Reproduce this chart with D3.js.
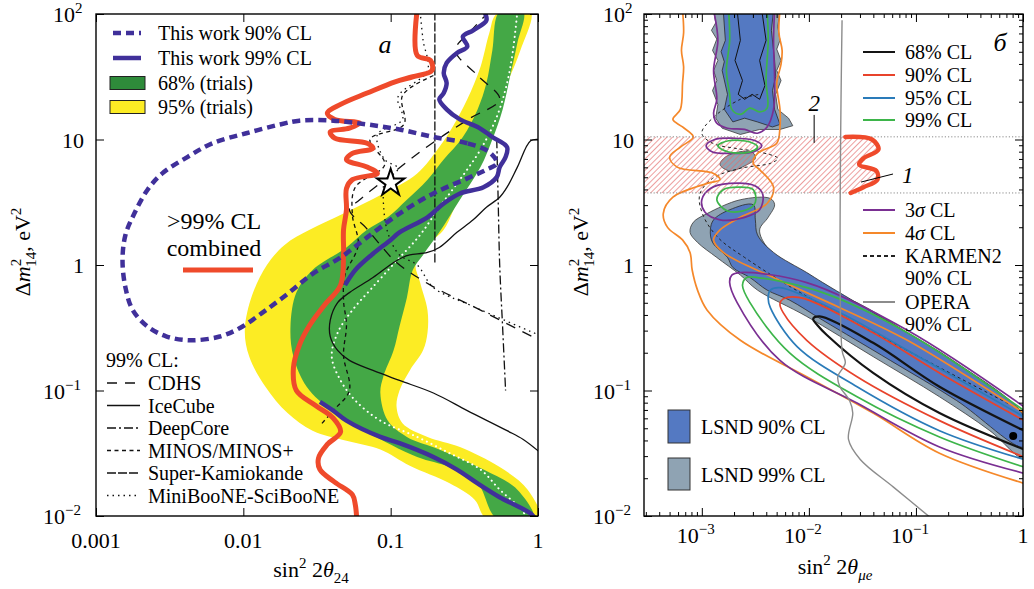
<!DOCTYPE html>
<html>
<head>
<meta charset="utf-8">
<script src="https://cdn.jsdelivr.net/npm/d3@7"></script>
<style>
  body { margin: 0; background: #fff; }
  svg { font-family: "Liberation Serif", "DejaVu Serif", serif; }
</style>
</head>
<body>
<svg id="chart" width="1034" height="589"></svg>
<script>
// All curve points are [log10(sin^2 2θ), log10(Δm^2)].

// ---- panel а : sin^2 2θ24 ----
const band95 = [[-0.28,2],[-0.33,1.85],[-0.39,1.58],[-0.48,1.32],[-0.58,1.10],[-0.67,0.94],[-0.82,0.73],[-1.05,0.57],[-1.32,0.41],[-1.55,0.28],[-1.72,0.16],[-1.84,0.0],[-1.94,-0.24],[-1.99,-0.52],[-1.96,-0.73],[-1.85,-0.97],[-1.70,-1.18],[-1.53,-1.32],[-1.30,-1.40],[-1.07,-1.47],[-0.87,-1.60],[-0.60,-1.74],[-0.43,-1.87],[-0.35,-2.02],[0.01,-2.02],[-0.07,-1.79],[-0.26,-1.61],[-0.53,-1.45],[-0.75,-1.37],[-0.92,-1.26],[-0.96,-1.13],[-0.94,-1.0],[-0.87,-0.84],[-0.78,-0.68],[-0.75,-0.54],[-0.75,-0.36],[-0.80,-0.14],[-0.83,0.02],[-0.73,0.18],[-0.64,0.28],[-0.51,0.62],[-0.38,0.92],[-0.31,1.18],[-0.21,1.45],[-0.12,1.71],[-0.05,2.02]];
const band68 = [[-0.26,2.02],[-0.31,1.71],[-0.35,1.45],[-0.41,1.24],[-0.51,1.02],[-0.64,0.84],[-0.75,0.68],[-0.89,0.52],[-1.02,0.38],[-1.16,0.28],[-1.30,0.14],[-1.53,-0.04],[-1.64,-0.22],[-1.68,-0.49],[-1.66,-0.73],[-1.57,-0.97],[-1.39,-1.17],[-1.16,-1.33],[-0.82,-1.53],[-0.60,-1.61],[-0.41,-1.74],[-0.28,-2.02],[-0.03,-2.02],[-0.14,-1.79],[-0.37,-1.63],[-0.67,-1.47],[-0.89,-1.37],[-1.02,-1.24],[-1.07,-1.02],[-1.05,-0.89],[-0.98,-0.68],[-0.94,-0.49],[-0.89,-0.26],[-0.85,-0.04],[-0.78,0.08],[-0.67,0.26],[-0.53,0.52],[-0.39,0.78],[-0.31,1.0],[-0.24,1.24],[-0.19,1.50],[-0.14,1.77],[-0.10,2.02]];
const sensitivity = [[-0.14,2.02],[-0.17,1.71],[-0.21,1.45],[-0.28,1.18],[-0.39,0.92],[-0.53,0.68],[-0.67,0.46],[-0.80,0.24],[-0.97,0.02],[-1.14,-0.20],[-1.26,-0.36],[-1.36,-0.54],[-1.40,-0.73],[-1.34,-0.92],[-1.24,-1.08],[-1.07,-1.24],[-0.82,-1.37],[-0.60,-1.50],[-0.39,-1.63],[-0.26,-1.79],[-0.12,-1.94],[-0.07,-2.02]];
const work99Upper = [[-0.37,2.03],[-0.35,1.95],[-0.44,1.87],[-0.51,1.82],[-0.48,1.74],[-0.55,1.69],[-0.62,1.61],[-0.64,1.53],[-0.62,1.45],[-0.64,1.37],[-0.67,1.32],[-0.62,1.24],[-0.53,1.16],[-0.41,1.10],[-0.31,1.02],[-0.21,0.94],[-0.22,0.86],[-0.26,0.78],[-0.28,0.70],[-0.37,0.62],[-0.53,0.57],[-0.64,0.49],[-0.75,0.38],[-0.94,0.26],[-1.0,0.20],[-1.13,0.08],[-1.24,-0.04],[-1.31,-0.16]];
const work99Lower = [[-1.48,-1.09],[-1.39,-1.16],[-1.30,-1.24],[-1.07,-1.37],[-0.94,-1.42],[-0.71,-1.53],[-0.55,-1.63],[-0.41,-1.74],[-0.26,-1.85],[-0.05,-1.98],[-0.02,-2.02]];
const work90 = [[-0.33,0.90],[-0.48,0.97],[-0.71,1.02],[-0.94,1.08],[-1.16,1.12],[-1.39,1.15],[-1.62,1.15],[-1.75,1.12],[-1.98,1.05],[-2.21,0.97],[-2.38,0.86],[-2.55,0.73],[-2.65,0.60],[-2.74,0.41],[-2.80,0.24],[-2.82,0.04],[-2.80,-0.18],[-2.75,-0.36],[-2.65,-0.49],[-2.52,-0.57],[-2.36,-0.60],[-2.16,-0.57],[-2.02,-0.50],[-1.87,-0.38],[-1.70,-0.23],[-1.53,-0.07],[-1.34,0.06],[-1.16,0.22],[-0.94,0.41],[-0.71,0.57],[-0.48,0.69],[-0.35,0.76],[-0.28,0.81]];
const combined99 = [[-0.82,2.03],[-0.82,1.67],[-0.73,1.63],[-0.72,1.55],[-0.85,1.50],[-0.97,1.46],[-1.16,1.37],[-1.34,1.28],[-1.43,1.21],[-1.38,1.16],[-1.21,1.13],[-1.28,1.09],[-1.41,1.06],[-1.38,1.01],[-1.16,0.97],[-1.12,0.93],[-1.26,0.89],[-1.30,0.84],[-1.16,0.78],[-1.09,0.73],[-1.26,0.68],[-1.30,0.61],[-1.30,0.44],[-1.32,0.28],[-1.32,0.08],[-1.34,-0.16],[-1.45,-0.32],[-1.55,-0.48],[-1.62,-0.64],[-1.66,-0.82],[-1.64,-1.0],[-1.51,-1.12],[-1.39,-1.22],[-1.34,-1.33],[-1.43,-1.43],[-1.49,-1.54],[-1.48,-1.63],[-1.38,-1.73],[-1.26,-1.83],[-1.24,-1.91],[-1.23,-2.03]];
const cdhs = [[-0.33,2.02],[-0.46,1.86],[-0.56,1.71],[-0.41,1.51],[-0.26,1.32],[-0.46,1.17],[-0.67,1.01],[-0.87,0.84],[-1.04,0.68],[-1.21,0.52],[-1.28,0.44],[-1.17,0.30],[-1.07,0.16],[-0.96,0.02],[-0.73,-0.16],[-0.39,-0.36],[0.01,-0.60]];
const icecube = [[0.01,1.0],[-0.05,0.99],[-0.14,0.78],[-0.21,0.62],[-0.26,0.54],[-0.35,0.46],[-0.44,0.36],[-0.55,0.26],[-0.67,0.14],[-0.75,0.10],[-0.87,0.08],[-0.92,0.06],[-0.98,0.02],[-1.12,-0.10],[-1.28,-0.22],[-1.36,-0.30],[-1.41,-0.44],[-1.41,-0.57],[-1.36,-0.68],[-1.28,-0.76],[-1.12,-0.84],[-0.94,-0.92],[-0.71,-1.02],[-0.48,-1.16],[-0.21,-1.32],[-0.10,-1.39],[0.01,-1.49]];
const deepcore = [[-0.28,1.0],[-0.27,0.5],[-0.26,0.0],[-0.24,-0.5],[-0.22,-1.0]];
const minos = [[-0.71,1.51],[-0.92,1.35],[-0.91,1.12],[-1.14,1.0],[-1.04,0.80],[-1.24,0.62],[-1.26,0.40],[-1.22,0.16],[-1.31,-0.08],[-1.32,-0.28],[-1.30,-0.48],[-1.32,-0.72],[-1.28,-1.0],[-1.39,-1.16],[-1.48,-1.28]];
const superK = [[-0.70,2.02],[-0.70,0.02]];
const miniboone = [[-0.80,2.02],[-0.78,1.79],[-0.75,1.55],[-0.95,1.34],[-0.92,1.16],[-1.09,1.04],[-1.04,0.84],[-0.95,0.77],[-1.04,0.66],[-1.05,0.52],[-1.02,0.26],[-0.94,0.08],[-0.82,0.0],[-0.71,-0.18],[-0.46,-0.32],[0.01,-0.56]];
const starPoint = [0.1, 4.5];

const ticksA_x = [0.001, 0.01, 0.1, 1];
const ticksA_xLabels = ['0.001', '0.01', '0.1', '1'];
const ticksY = [100, 10, 1, 0.1, 0.01];
const ticksY_exp = ['2', '', '', '−1', '−2'];
const ticksY_base = ['10', '10', '1', '10', '10'];

const legendWork = ['This work 90% CL', 'This work 99% CL', '68% (trials)', '95% (trials)'];
const legendExp = ['CDHS', 'IceCube', 'DeepCore', 'MINOS/MINOS+', 'Super-Kamiokande', 'MiniBooNE-SciBooNE'];
const legendExpDash = ['10,8', null, '9,3,2,3', '4,3.5', '9,2', '1.5,4'];

// ---- panel б : sin^2 2θμe ----
const lsnd99Upper = [[-2.89,2.03],[-2.87,1.93],[-2.91,1.87],[-2.86,1.80],[-2.90,1.71],[-2.85,1.63],[-2.89,1.55],[-2.86,1.47],[-2.90,1.39],[-2.85,1.28],[-2.87,1.17],[-2.81,1.09],[-2.64,1.04],[-2.46,1.08],[-2.27,1.08],[-2.15,1.11],[-2.19,1.17],[-2.29,1.24],[-2.31,1.36],[-2.26,1.47],[-2.30,1.55],[-2.26,1.63],[-2.30,1.72],[-2.27,1.79],[-2.29,1.90],[-2.27,2.03]];
const lsnd99Island = [[-2.83,0.80],[-2.78,0.86],[-2.66,0.90],[-2.53,0.90],[-2.50,0.85],[-2.60,0.79],[-2.74,0.75]];
const lsnd99Lower = [[-2.36,0.53],[-2.32,0.48],[-2.38,0.38],[-2.46,0.28],[-2.39,0.14],[-2.18,-0.02],[-1.90,-0.18],[-1.55,-0.30],[-1.08,-0.54],[-0.62,-0.81],[-0.15,-1.12],[0.01,-1.18],[0.01,-1.54],[-0.31,-1.32],[-0.78,-1.05],[-1.40,-0.73],[-2.02,-0.41],[-2.48,-0.20],[-2.64,-0.08],[-2.86,0.06],[-3.04,0.18],[-3.11,0.26],[-3.08,0.34],[-2.95,0.41],[-2.64,0.52]];
const lsnd90Upper = [[-2.80,2.03],[-2.78,1.79],[-2.82,1.70],[-2.79,1.62],[-2.81,1.55],[-2.76,1.36],[-2.79,1.24],[-2.71,1.14],[-2.60,1.17],[-2.48,1.14],[-2.34,1.10],[-2.27,1.12],[-2.32,1.24],[-2.34,1.39],[-2.31,1.50],[-2.32,1.63],[-2.35,1.87],[-2.33,2.03]];
const lsnd90Lower = [[-2.52,0.48],[-2.50,0.36],[-2.48,0.24],[-2.33,0.10],[-2.02,-0.06],[-1.87,-0.14],[-1.24,-0.46],[-0.62,-0.78],[0.01,-1.21],[0.01,-1.45],[-0.62,-1.08],[-1.24,-0.76],[-1.87,-0.44],[-2.18,-0.28],[-2.39,-0.20],[-2.55,-0.10],[-2.71,-0.02],[-2.76,0.06],[-2.90,0.18],[-2.92,0.28],[-2.89,0.36],[-2.74,0.44]];
const cl68Upper = [[-2.67,2.03],[-2.64,1.79],[-2.69,1.63],[-2.62,1.47],[-2.66,1.36],[-2.60,1.32],[-2.53,1.36],[-2.46,1.32],[-2.41,1.43],[-2.46,1.63],[-2.40,1.79],[-2.44,2.03]];
const cl68 = [[0.01,-1.32],[-0.78,-0.97],[-1.40,-0.62],[-1.90,-0.41],[-1.96,-0.43],[-1.92,-0.48],[-1.83,-0.56],[-1.40,-0.86],[-0.78,-1.18],[0.01,-1.47]];
const cl90 = [[0.01,-1.24],[-0.78,-0.86],[-1.40,-0.54],[-2.08,-0.26],[-2.24,-0.27],[-2.27,-0.31],[-2.24,-0.38],[-2.02,-0.60],[-1.55,-0.89],[-0.78,-1.24],[0.01,-1.53]];
const cl95 = [[0.01,-1.21],[-1.08,-0.68],[-1.71,-0.38],[-2.27,-0.18],[-2.36,-0.20],[-2.38,-0.26],[-2.36,-0.34],[-2.11,-0.65],[-1.55,-0.97],[-0.78,-1.32],[0.01,-1.55]];
const cl99 = [[0.01,-1.16],[-1.08,-0.54],[-1.87,-0.22],[-2.48,-0.10],[-2.58,-0.10],[-2.62,-0.16],[-2.55,-0.30],[-2.18,-0.70],[-1.55,-1.05],[-0.78,-1.37],[0.01,-1.61]];
const cl99Upper = [[-2.75,2.03],[-2.74,1.79],[-2.77,1.55],[-2.74,1.36],[-2.72,1.24],[-2.64,1.20],[-2.55,1.25],[-2.46,1.22],[-2.39,1.25],[-2.40,1.47],[-2.38,1.79],[-2.39,2.03]];
const cl99Island1 = [[-2.85,0.95],[-2.75,0.99],[-2.55,0.98],[-2.48,0.94],[-2.55,0.90],[-2.75,0.90]];
const cl99Island2 = [[-2.86,0.52],[-2.80,0.60],[-2.65,0.62],[-2.52,0.60],[-2.50,0.50],[-2.58,0.44],[-2.76,0.43]];
const sigma3 = [[0.01,-1.13],[-1.08,-0.52],[-2.02,-0.14],[-2.64,-0.06],[-2.72,-0.08],[-2.74,-0.14],[-2.67,-0.30],[-2.27,-0.76],[-1.55,-1.10],[-0.78,-1.45],[0.01,-1.66]];
const sigma3Upper = [[-2.89,2.03],[-2.85,1.79],[-2.89,1.55],[-2.86,1.32],[-2.89,1.21],[-2.86,1.13],[-2.76,1.09],[-2.60,1.08],[-2.48,1.05],[-2.39,1.10],[-2.33,1.24],[-2.32,1.47],[-2.33,1.79],[-2.32,2.03]];
const sigma3Island1 = [[-2.96,0.95],[-2.88,1.0],[-2.70,1.01],[-2.50,0.99],[-2.44,0.95],[-2.52,0.90],[-2.70,0.89],[-2.90,0.90]];
const sigma3Island2 = [[-3.0,0.52],[-2.92,0.61],[-2.74,0.65],[-2.50,0.63],[-2.43,0.56],[-2.46,0.44],[-2.60,0.38],[-2.83,0.36],[-2.97,0.42]];
const sigma4 = [[-3.18,2.03],[-3.17,1.85],[-3.19,1.71],[-3.17,1.58],[-3.18,1.45],[-3.20,1.24],[-3.27,1.16],[-3.18,1.10],[-3.08,1.02],[-3.20,0.94],[-3.30,0.86],[-3.23,0.78],[-2.89,0.73],[-2.83,0.68],[-2.95,0.65],[-3.27,0.54],[-3.36,0.41],[-3.32,0.30],[-3.18,0.20],[-3.11,0.10],[-3.09,-0.04],[-3.04,-0.20],[-2.95,-0.36],[-2.64,-0.60],[-2.02,-0.89],[-1.40,-1.18],[-0.78,-1.50],[0.01,-1.74]];
const sigma4Inner = [[0.01,-1.18],[-1.08,-0.60],[-1.71,-0.34],[-2.33,-0.10],[-2.80,0.10],[-2.89,0.20],[-2.83,0.28],[-2.64,0.38],[-2.39,0.49],[-2.33,0.62],[-2.46,0.76],[-2.52,0.81],[-2.48,0.89],[-2.30,0.97],[-2.27,1.10],[-2.27,1.24],[-2.30,1.45],[-2.26,1.60],[-2.25,1.71],[-2.28,1.85],[-2.27,2.03]];
const karmen = [[0.01,-1.17],[-1.15,-0.65],[-2.08,-0.22],[-2.60,0.06],[-2.85,0.22],[-2.99,0.40],[-3.02,0.56],[-2.90,0.69],[-2.64,0.77],[-2.36,0.81],[-2.29,0.85],[-2.46,0.90],[-2.69,0.93],[-2.90,0.97],[-3.0,1.05],[-2.90,1.17],[-2.64,1.32],[-2.46,1.36]];
const opera = [[-1.69,1.95],[-1.69,-0.68],[-1.66,-0.78],[-1.73,-0.89],[-1.71,-0.97],[-1.62,-1.08],[-1.59,-1.18],[-1.63,-1.39],[-1.52,-1.55],[-1.21,-1.77],[-0.84,-2.03]];
const region1 = [[-1.66,1.02],[-1.41,1.0],[-1.35,0.92],[-1.49,0.85],[-1.53,0.80],[-1.37,0.75],[-1.36,0.68],[-1.49,0.62],[-1.61,0.574]];
const bandLimits = [3.75, 10.5];
const bestFit = [0.81, 0.0434];

const ticksB_x = [0.001, 0.01, 0.1, 1];
const ticksB_xExp = ['−3', '−2', '−1', ''];
const ticksB_xBase = ['10', '10', '10', '1'];
const legendCL = ['68% CL', '90% CL', '95% CL', '99% CL'];
const colorsCL = ['#141414', '#e8432b', '#2a7bb9', '#3db54a'];
const legendSigma = ['3', '4'];
const colorsSigma = ['#7a2f92', '#f5882a'];

// ---------------------------------------------------------------
const svg = d3.select('#chart');
const defs = svg.append('defs');
const toVal = pts => pts.map(([a, b]) => [10 ** a, 10 ** b]);

const xa = d3.scaleLog().domain([1e-3, 1]).range([96, 538]);
const ya = d3.scaleLog().domain([1e-2, 1e2]).range([516, 14]);
const xb = d3.scaleLog().domain([10 ** -3.54, 1]).range([644, 1023]);
const yb = ya.copy();

function addClip(id, sx, sy) {
  defs.append('clipPath').attr('id', id).append('rect')
    .attr('x', sx.range()[0]).attr('y', sy.range()[1])
    .attr('width', sx.range()[1] - sx.range()[0])
    .attr('height', sy.range()[0] - sy.range()[1]);
}
addClip('clipA', xa, ya);
addClip('clipB', xb, yb);

const hatch = defs.append('pattern').attr('id', 'hatch')
  .attr('patternUnits', 'userSpaceOnUse').attr('width', 4).attr('height', 4)
  .attr('patternTransform', 'rotate(45)');
hatch.append('line').attr('x1', 0).attr('y1', 0).attr('x2', 0).attr('y2', 4)
  .attr('stroke', '#e46a6a').attr('stroke-width', 1.3);

function draw(g, sx, sy, pts, closed, smooth = true) {
  const curve = smooth
    ? (closed ? d3.curveCatmullRomClosed : d3.curveCatmullRom)
    : (closed ? d3.curveLinearClosed : d3.curveLinear);
  const line = d3.line().x(d => sx(d[0])).y(d => sy(d[1])).curve(curve);
  return g.append('path').attr('d', line(toVal(pts))).attr('fill', 'none');
}

// ====================== panel а ======================
const gA = svg.append('g').attr('clip-path', 'url(#clipA)');
draw(gA, xa, ya, band95, true).attr('fill', '#fcec24');
draw(gA, xa, ya, band68, true).attr('fill', '#44a846');
draw(gA, xa, ya, sensitivity, false).attr('stroke', '#fff').attr('stroke-width', 2)
  .attr('stroke-dasharray', '0.1,5').attr('stroke-linecap', 'round');

const expLines = [cdhs, icecube, deepcore, minos, superK, miniboone];
expLines.forEach((pts, i) => {
  draw(gA, xa, ya, pts, false, pts.length > 2).attr('stroke', '#111')
    .attr('stroke-width', 1.3).attr('stroke-dasharray', legendExpDash[i]);
});

draw(gA, xa, ya, work99Upper, false).attr('stroke', '#40309a').attr('stroke-width', 4.5);
draw(gA, xa, ya, work99Lower, false).attr('stroke', '#40309a').attr('stroke-width', 4.5);
draw(gA, xa, ya, combined99, false).attr('stroke', '#ef4a2b').attr('stroke-width', 5)
  .attr('stroke-linejoin', 'round');
draw(gA, xa, ya, work90, true).attr('stroke', '#40309a').attr('stroke-width', 4.5)
  .attr('stroke-dasharray', '8,5');

gA.append('path')
  .attr('d', d3.symbol(d3.symbolStar).size(230)())
  .attr('transform', `translate(${xa(starPoint[0])},${ya(starPoint[1])})`)
  .attr('fill', '#fff').attr('stroke', '#000').attr('stroke-width', 2);

// ====================== panel б ======================
const gB = svg.append('g').attr('clip-path', 'url(#clipB)');
[lsnd99Upper, lsnd99Island, lsnd99Lower].forEach(p =>
  draw(gB, xb, yb, p, true, p !== lsnd99Upper).attr('fill', '#8fa3b3').attr('stroke', '#3a3a3a').attr('stroke-width', 0.8));
[lsnd90Upper, lsnd90Lower].forEach(p =>
  draw(gB, xb, yb, p, true, p !== lsnd90Upper).attr('fill', '#5479c2').attr('stroke', '#2a2a2a').attr('stroke-width', 0.8));
draw(gB, xb, yb, cl68Upper, false, false).attr('stroke', '#111').attr('stroke-width', 1);

// hatched region left of curve 1
const hatchPts = [[Math.log10(xb.domain()[0]), Math.log10(bandLimits[1])], ...region1,
  [Math.log10(xb.domain()[0]), Math.log10(bandLimits[0])]];
draw(gB, xb, yb, hatchPts, true, false).attr('fill', 'url(#hatch)');

draw(gB, xb, yb, karmen, false).attr('stroke', '#222').attr('stroke-width', 1).attr('stroke-dasharray', '3,3');

const sw = 1.7;
draw(gB, xb, yb, sigma4, false).attr('stroke', colorsSigma[1]).attr('stroke-width', sw);
draw(gB, xb, yb, sigma4Inner, false).attr('stroke', colorsSigma[1]).attr('stroke-width', sw);
draw(gB, xb, yb, sigma3, false).attr('stroke', colorsSigma[0]).attr('stroke-width', sw);
draw(gB, xb, yb, sigma3Upper, false).attr('stroke', colorsSigma[0]).attr('stroke-width', sw);
draw(gB, xb, yb, sigma3Island1, true).attr('stroke', colorsSigma[0]).attr('stroke-width', sw);
draw(gB, xb, yb, sigma3Island2, true).attr('stroke', colorsSigma[0]).attr('stroke-width', sw);
draw(gB, xb, yb, cl99, false).attr('stroke', colorsCL[3]).attr('stroke-width', sw);
draw(gB, xb, yb, cl99Upper, false).attr('stroke', colorsCL[3]).attr('stroke-width', sw);
draw(gB, xb, yb, cl99Island1, true).attr('stroke', colorsCL[3]).attr('stroke-width', sw);
draw(gB, xb, yb, cl99Island2, true).attr('stroke', colorsCL[3]).attr('stroke-width', sw);
draw(gB, xb, yb, cl95, false).attr('stroke', colorsCL[2]).attr('stroke-width', sw);
draw(gB, xb, yb, cl90, false).attr('stroke', colorsCL[1]).attr('stroke-width', sw);
draw(gB, xb, yb, cl68, false).attr('stroke', colorsCL[0]).attr('stroke-width', 2.2);

draw(gB, xb, yb, opera, false).attr('stroke', '#8c8c8c').attr('stroke-width', 1.4);

bandLimits.forEach(v => gB.append('line')
  .attr('x1', xb.range()[0]).attr('x2', xb.range()[1]).attr('y1', yb(v)).attr('y2', yb(v))
  .attr('stroke', '#8a8a8a').attr('stroke-width', 1).attr('stroke-dasharray', '1.2,2'));

draw(gB, xb, yb, region1, false).attr('stroke', '#ef4a2b').attr('stroke-width', 4.5)
  .attr('stroke-linecap', 'round');

gB.append('circle').attr('cx', xb(bestFit[0])).attr('cy', yb(bestFit[1])).attr('r', 4).attr('fill', '#000');

// labels "1" and "2" with leaders
svg.append('line').attr('x1', xb(0.0307)).attr('y1', yb(4.58)).attr('x2', xb(0.0611)).attr('y2', yb(5.31))
  .attr('stroke', '#000').attr('stroke-width', 1);
svg.append('text').attr('x', xb(0.084)).attr('y', yb(5.2) + 8).attr('font-size', 23)
  .attr('font-style', 'italic').attr('text-anchor', 'middle').text('1');
svg.append('line').attr('x1', xb(0.0112)).attr('y1', yb(15.7)).attr('x2', xb(0.0112)).attr('y2', yb(9.4))
  .attr('stroke', '#000').attr('stroke-width', 1);
svg.append('text').attr('x', xb(0.0112)).attr('y', yb(19.5) + 8).attr('font-size', 23)
  .attr('font-style', 'italic').attr('text-anchor', 'middle').text('2');

// ====================== frames & ticks ======================
function frame(sx, sy, majorX, majorY, minorX, minorY) {
  const [x0, x1] = sx.range(), [y1, y0] = sy.range();
  const g = svg.append('g');
  const put = (axis, tr) => {
    const a = g.append('g').attr('transform', tr).call(axis);
    a.select('.domain').remove();
    a.selectAll('line').attr('stroke', '#000').attr('stroke-width', 1);
  };
  [[majorX, 8], [minorX, 4]].forEach(([vals, len]) => {
    if (!vals.length) return;
    put(d3.axisBottom(sx).tickValues(vals).tickSize(-len).tickFormat(''), `translate(0,${y1})`);
    put(d3.axisTop(sx).tickValues(vals).tickSize(-len).tickFormat(''), `translate(0,${y0})`);
  });
  [[majorY, 8], [minorY, 4]].forEach(([vals, len]) => {
    if (!vals.length) return;
    put(d3.axisLeft(sy).tickValues(vals).tickSize(-len).tickFormat(''), `translate(${x0},0)`);
    put(d3.axisRight(sy).tickValues(vals).tickSize(-len).tickFormat(''), `translate(${x1},0)`);
  });
  g.append('rect').attr('x', x0).attr('y', y0).attr('width', x1 - x0).attr('height', y1 - y0)
    .attr('fill', 'none').attr('stroke', '#000').attr('stroke-width', 1.4);
}

const minors = (lo, hi, dmin, dmax) => {
  const out = [];
  for (let e = lo; e <= hi; e++) for (let k = 2; k <= 9; k++) {
    const v = k * 10 ** e;
    if (v > dmin && v < dmax) out.push(v);
  }
  return out;
};
frame(xa, ya, ticksA_x, ticksY, [], []);
frame(xb, yb, ticksB_x, ticksY, minors(-4, -1, xb.domain()[0], 1), minors(-2, 1, 0.01, 100));

// tick labels
function powText(x, y, base, exp, anchor) {
  const t = svg.append('text').attr('x', x).attr('y', y).attr('font-size', 22).attr('text-anchor', anchor);
  t.append('tspan').text(base);
  if (exp) t.append('tspan').attr('dy', -9).attr('font-size', 15).text(exp);
}
ticksA_x.forEach((v, i) => svg.append('text').attr('x', xa(v)).attr('y', 548)
  .attr('font-size', 22).attr('text-anchor', 'middle').text(ticksA_xLabels[i]));
ticksB_x.forEach((v, i) => powText(xb(v) - (ticksB_xExp[i] ? 6 : 0), 543, ticksB_xBase[i], ticksB_xExp[i], 'middle'));
ticksY.forEach((v, i) => {
  const ex = ticksY_exp[i];
  const w = ex ? (ex.length > 1 ? 19 : 9) : 0;
  [[xa, 84], [xb, 634]].forEach(([, xr]) => {
    const t = svg.append('text').attr('x', xr - w).attr('y', ya(v) + 8).attr('font-size', 22).attr('text-anchor', 'end');
    t.text(ticksY_base[i]);
    if (ex) svg.append('text').attr('x', xr - w).attr('y', ya(v) - 1).attr('font-size', 15).text(ex);
  });
});

// axis titles
function yTitle(x, y) {
  const t = svg.append('text').attr('transform', `translate(${x},${y}) rotate(-90)`)
    .attr('font-size', 22).attr('text-anchor', 'middle');
  t.append('tspan').text('Δ');
  t.append('tspan').attr('font-style', 'italic').text('m');
  t.append('tspan').attr('dy', -9).attr('font-size', 15).text('2');
  t.append('tspan').attr('dx', -8).attr('dy', 15).attr('font-size', 15).text('14');
  t.append('tspan').attr('dy', -6).text(', eV');
  t.append('tspan').attr('dy', -9).attr('font-size', 15).text('2');
}
yTitle(30, 252);
yTitle(588, 252);

function xTitle(x, y, sub, gap) {
  const t = svg.append('text').attr('x', x).attr('y', y).attr('font-size', 22).attr('text-anchor', 'middle');
  t.append('tspan').text('sin');
  t.append('tspan').attr('dy', -9).attr('font-size', 15).text('2');
  t.append('tspan').attr('dy', 9).text(gap + '2');
  t.append('tspan').attr('font-style', 'italic').text('θ');
  t.append('tspan').attr('dy', 6).attr('font-size', 15).attr('font-style', sub === '24' ? 'normal' : 'italic').text(sub);
}
xTitle(311, 577, '24', '  ');
xTitle(835, 574, 'μe', ' ');

// panel letters
svg.append('text').attr('x', 385).attr('y', 53).attr('font-size', 26).attr('font-style', 'italic')
  .attr('text-anchor', 'middle').text('а');
svg.append('text').attr('x', 1000).attr('y', 51).attr('font-size', 26).attr('font-style', 'italic')
  .attr('text-anchor', 'middle').text('б');

// ====================== legends panel а ======================
const lgA = svg.append('g');
const rowsA = [33, 58, 83, 107];
lgA.append('line').attr('x1', 113).attr('x2', 141).attr('y1', rowsA[0]).attr('y2', rowsA[0])
  .attr('stroke', '#40309a').attr('stroke-width', 4.5).attr('stroke-dasharray', '8,5');
lgA.append('line').attr('x1', 113).attr('x2', 141).attr('y1', rowsA[1]).attr('y2', rowsA[1])
  .attr('stroke', '#40309a').attr('stroke-width', 4.5);
lgA.append('rect').attr('x', 110).attr('y', rowsA[2] - 6.5).attr('width', 35).attr('height', 13)
  .attr('fill', '#2e8b3a').attr('stroke', '#222');
lgA.append('rect').attr('x', 110).attr('y', rowsA[3] - 6.5).attr('width', 35).attr('height', 13)
  .attr('fill', '#fcec24').attr('stroke', '#222');
legendWork.forEach((s, i) => lgA.append('text').attr('x', 158).attr('y', rowsA[i] + 7)
  .attr('font-size', 20).text(s));

lgA.append('text').attr('x', 214).attr('y', 229).attr('font-size', 24).attr('text-anchor', 'middle').text('>99% CL');
lgA.append('text').attr('x', 214).attr('y', 256).attr('font-size', 24).attr('text-anchor', 'middle').text('combined');
lgA.append('line').attr('x1', 183).attr('x2', 253).attr('y1', 270).attr('y2', 270)
  .attr('stroke', '#ef4a2b').attr('stroke-width', 5);

lgA.append('text').attr('x', 106).attr('y', 367).attr('font-size', 20).text('99% CL:');
legendExp.forEach((s, i) => {
  const y = 383 + i * 22.5;
  lgA.append('line').attr('x1', 107).attr('x2', 140).attr('y1', y).attr('y2', y)
    .attr('stroke', '#111').attr('stroke-width', 1.3).attr('stroke-dasharray', legendExpDash[i]);
  lgA.append('text').attr('x', 148).attr('y', y + 7).attr('font-size', 20).text(s);
});

// ====================== legends panel б ======================
const lgB = svg.append('g');
const legLine = (y, color, dash) => lgB.append('line').attr('x1', 863).attr('x2', 895)
  .attr('y1', y).attr('y2', y).attr('stroke', color).attr('stroke-width', 2).attr('stroke-dasharray', dash);
const legText = (y, s) => lgB.append('text').attr('x', 905).attr('y', y + 7).attr('font-size', 20).text(s);
[52, 75, 98, 120].forEach((y, i) => { legLine(y, colorsCL[i], null); legText(y, legendCL[i]); });
[210, 233].forEach((y, i) => {
  legLine(y, colorsSigma[i], null);
  const t = lgB.append('text').attr('x', 905).attr('y', y + 7).attr('font-size', 20);
  t.append('tspan').text(legendSigma[i]);
  t.append('tspan').attr('font-style', 'italic').text('σ');
  t.append('tspan').text(' CL');
});
legLine(256, '#222', '4,3'); legText(256, 'KARMEN2'); legText(278, '90% CL');
legLine(302, '#8c8c8c', null); legText(302, 'OPERA'); legText(324, '90% CL');

lgB.append('rect').attr('x', 668).attr('y', 410).attr('width', 22).attr('height', 33)
  .attr('fill', '#5479c2').attr('stroke', '#333');
lgB.append('text').attr('x', 701).attr('y', 434).attr('font-size', 20).text('LSND 90% CL');
lgB.append('rect').attr('x', 668).attr('y', 458).attr('width', 22).attr('height', 32)
  .attr('fill', '#8fa3b3').attr('stroke', '#333');
lgB.append('text').attr('x', 701).attr('y', 482).attr('font-size', 20).text('LSND 99% CL');
</script>
</body>
</html>
